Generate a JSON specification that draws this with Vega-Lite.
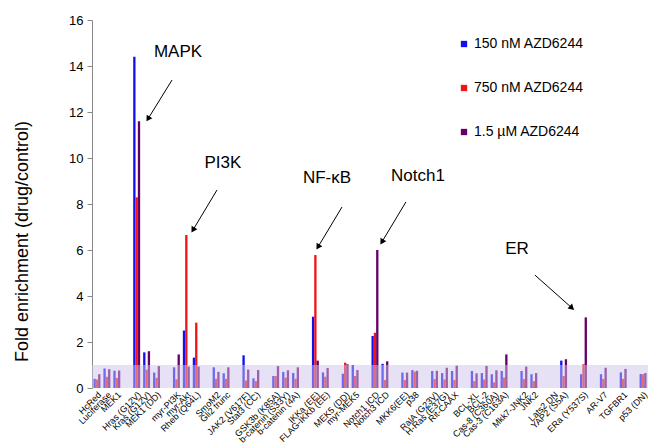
{
  "$schema": "https://vega.github.io/schema/vega-lite/v6.json",
  "width": 556,
  "height": 368,
  "autosize": {"type": "none"},
  "padding": {"left": 92, "top": 20, "right": 17, "bottom": 60},
  "background": "white",
  "config": {
    "view": {"stroke": null},
    "font": "Liberation Sans",
    "axis": {"labelFont": "Liberation Sans", "titleFont": "Liberation Sans", "labelColor": "black", "titleColor": "black"},
    "legend": {"labelFont": "Liberation Sans"}
  },
  "datasets": {
    "bars": [
      {"g": "HcRed", "s": "150 nM AZD6244", "v": 0.4}, {"g": "HcRed", "s": "750 nM AZD6244", "v": 0.37}, {"g": "HcRed", "s": "1.5 µM AZD6244", "v": 0.6},
      {"g": "Luciferase", "s": "150 nM AZD6244", "v": 0.85}, {"g": "Luciferase", "s": "750 nM AZD6244", "v": 0.49}, {"g": "Luciferase", "s": "1.5 µM AZD6244", "v": 0.82},
      {"g": "MEK1", "s": "150 nM AZD6244", "v": 0.75}, {"g": "MEK1", "s": "750 nM AZD6244", "v": 0.44}, {"g": "MEK1", "s": "1.5 µM AZD6244", "v": 0.76},
      {"g": "Hras (G12V)", "s": "150 nM AZD6244", "v": 14.4}, {"g": "Hras (G12V)", "s": "750 nM AZD6244", "v": 8.29}, {"g": "Hras (G12V)", "s": "1.5 µM AZD6244", "v": 11.6},
      {"g": "Kras (G12V)", "s": "150 nM AZD6244", "v": 1.55}, {"g": "Kras (G12V)", "s": "750 nM AZD6244", "v": 0.8}, {"g": "Kras (G12V)", "s": "1.5 µM AZD6244", "v": 1.6},
      {"g": "MEK1 (DD)", "s": "150 nM AZD6244", "v": 0.67}, {"g": "MEK1 (DD)", "s": "750 nM AZD6244", "v": 0.44}, {"g": "MEK1 (DD)", "s": "1.5 µM AZD6244", "v": 0.95},
      {"g": "myr-PI3K", "s": "150 nM AZD6244", "v": 0.9}, {"g": "myr-PI3K", "s": "750 nM AZD6244", "v": 0.38}, {"g": "myr-PI3K", "s": "1.5 µM AZD6244", "v": 1.46},
      {"g": "myr-Akt", "s": "150 nM AZD6244", "v": 2.5}, {"g": "myr-Akt", "s": "750 nM AZD6244", "v": 6.65}, {"g": "myr-Akt", "s": "1.5 µM AZD6244", "v": 0.93},
      {"g": "Rheb (Q64L)", "s": "150 nM AZD6244", "v": 1.32}, {"g": "Rheb (Q64L)", "s": "750 nM AZD6244", "v": 2.84}, {"g": "Rheb (Q64L)", "s": "1.5 µM AZD6244", "v": 0.93},
      {"g": "SmoM2", "s": "150 nM AZD6244", "v": 0.9}, {"g": "SmoM2", "s": "750 nM AZD6244", "v": 0.4}, {"g": "SmoM2", "s": "1.5 µM AZD6244", "v": 0.7},
      {"g": "Gli2 trunc", "s": "150 nM AZD6244", "v": 0.64}, {"g": "Gli2 trunc", "s": "750 nM AZD6244", "v": 0.4}, {"g": "Gli2 trunc", "s": "1.5 µM AZD6244", "v": 0.9},
      {"g": "JAK2 (V617F)", "s": "150 nM AZD6244", "v": 1.42}, {"g": "JAK2 (V617F)", "s": "750 nM AZD6244", "v": 0.33}, {"g": "JAK2 (V617F)", "s": "1.5 µM AZD6244", "v": 0.8},
      {"g": "Stat3 (CC)", "s": "150 nM AZD6244", "v": 0.42}, {"g": "Stat3 (CC)", "s": "750 nM AZD6244", "v": 0.3}, {"g": "Stat3 (CC)", "s": "1.5 µM AZD6244", "v": 0.78},
      {"g": "GSK3b (K85A)", "s": "150 nM AZD6244", "v": 0.52}, {"g": "GSK3b (K85A)", "s": "750 nM AZD6244", "v": 0.52}, {"g": "GSK3b (K85A)", "s": "1.5 µM AZD6244", "v": 0.95},
      {"g": "b-catenin (S33Y)", "s": "150 nM AZD6244", "v": 0.7}, {"g": "b-catenin (S33Y)", "s": "750 nM AZD6244", "v": 0.45}, {"g": "b-catenin (S33Y)", "s": "1.5 µM AZD6244", "v": 0.77},
      {"g": "b-catenin (4A)", "s": "150 nM AZD6244", "v": 0.65}, {"g": "b-catenin (4A)", "s": "750 nM AZD6244", "v": 0.4}, {"g": "b-catenin (4A)", "s": "1.5 µM AZD6244", "v": 0.9},
      {"g": "IKKa (EE)", "s": "150 nM AZD6244", "v": 3.1}, {"g": "IKKa (EE)", "s": "750 nM AZD6244", "v": 5.78}, {"g": "IKKa (EE)", "s": "1.5 µM AZD6244", "v": 1.19},
      {"g": "FLAG-IKKb (EE)", "s": "150 nM AZD6244", "v": 0.68}, {"g": "FLAG-IKKb (EE)", "s": "750 nM AZD6244", "v": 0.49}, {"g": "FLAG-IKKb (EE)", "s": "1.5 µM AZD6244", "v": 0.87},
      {"g": "MEK5 (DD)", "s": "150 nM AZD6244", "v": 0.62}, {"g": "MEK5 (DD)", "s": "750 nM AZD6244", "v": 1.1}, {"g": "MEK5 (DD)", "s": "1.5 µM AZD6244", "v": 1.03},
      {"g": "myr-MEK5", "s": "150 nM AZD6244", "v": 1.0}, {"g": "myr-MEK5", "s": "750 nM AZD6244", "v": 0.52}, {"g": "myr-MEK5", "s": "1.5 µM AZD6244", "v": 0.78},
      {"g": "Notch1 ICD", "s": "150 nM AZD6244", "v": 2.26}, {"g": "Notch1 ICD", "s": "750 nM AZD6244", "v": 2.4}, {"g": "Notch1 ICD", "s": "1.5 µM AZD6244", "v": 6.0},
      {"g": "Notch3 ICD", "s": "150 nM AZD6244", "v": 1.05}, {"g": "Notch3 ICD", "s": "750 nM AZD6244", "v": 0.35}, {"g": "Notch3 ICD", "s": "1.5 µM AZD6244", "v": 1.16},
      {"g": "MKK6(EE)", "s": "150 nM AZD6244", "v": 0.67}, {"g": "MKK6(EE)", "s": "750 nM AZD6244", "v": 0.35}, {"g": "MKK6(EE)", "s": "1.5 µM AZD6244", "v": 0.67},
      {"g": "p38", "s": "150 nM AZD6244", "v": 0.78}, {"g": "p38", "s": "750 nM AZD6244", "v": 0.71}, {"g": "p38", "s": "1.5 µM AZD6244", "v": 0.75},
      {"g": "RalA (G23V)", "s": "150 nM AZD6244", "v": 0.74}, {"g": "RalA (G23V)", "s": "750 nM AZD6244", "v": 0.39}, {"g": "RalA (G23V)", "s": "1.5 µM AZD6244", "v": 0.75},
      {"g": "H-Ras (E37G)", "s": "150 nM AZD6244", "v": 0.65}, {"g": "H-Ras (E37G)", "s": "750 nM AZD6244", "v": 0.37}, {"g": "H-Ras (E37G)", "s": "1.5 µM AZD6244", "v": 0.88},
      {"g": "Rit-CAAX", "s": "150 nM AZD6244", "v": 0.74}, {"g": "Rit-CAAX", "s": "750 nM AZD6244", "v": 0.35}, {"g": "Rit-CAAX", "s": "1.5 µM AZD6244", "v": 0.97},
      {"g": "BCL-XL", "s": "150 nM AZD6244", "v": 0.74}, {"g": "BCL-XL", "s": "750 nM AZD6244", "v": 0.3}, {"g": "BCL-XL", "s": "1.5 µM AZD6244", "v": 0.64},
      {"g": "BCL-2", "s": "150 nM AZD6244", "v": 0.65}, {"g": "BCL-2", "s": "750 nM AZD6244", "v": 0.37}, {"g": "BCL-2", "s": "1.5 µM AZD6244", "v": 0.96},
      {"g": "Cas-8 (C360A)", "s": "150 nM AZD6244", "v": 0.6}, {"g": "Cas-8 (C360A)", "s": "750 nM AZD6244", "v": 0.25}, {"g": "Cas-8 (C360A)", "s": "1.5 µM AZD6244", "v": 0.77},
      {"g": "Cas-3 (C163A)", "s": "150 nM AZD6244", "v": 0.74}, {"g": "Cas-3 (C163A)", "s": "750 nM AZD6244", "v": 0.46}, {"g": "Cas-3 (C163A)", "s": "1.5 µM AZD6244", "v": 1.46},
      {"g": "Mkk7-JNK2", "s": "150 nM AZD6244", "v": 0.74}, {"g": "Mkk7-JNK2", "s": "750 nM AZD6244", "v": 0.39}, {"g": "Mkk7-JNK2", "s": "1.5 µM AZD6244", "v": 0.93},
      {"g": "JNK2", "s": "150 nM AZD6244", "v": 0.6}, {"g": "JNK2", "s": "750 nM AZD6244", "v": 0.3}, {"g": "JNK2", "s": "1.5 µM AZD6244", "v": 0.65},
      {"g": "YAP2 (S5A)", "s": "150 nM AZD6244", "v": 1.19}, {"g": "YAP2 (S5A)", "s": "750 nM AZD6244", "v": 0.52}, {"g": "YAP2 (S5A)", "s": "1.5 µM AZD6244", "v": 1.25},
      {"g": "ERa (Y537S)", "s": "150 nM AZD6244", "v": 0.6}, {"g": "ERa (Y537S)", "s": "750 nM AZD6244", "v": 1.03}, {"g": "ERa (Y537S)", "s": "1.5 µM AZD6244", "v": 3.07},
      {"g": "AR-V7", "s": "150 nM AZD6244", "v": 0.6}, {"g": "AR-V7", "s": "750 nM AZD6244", "v": 0.39}, {"g": "AR-V7", "s": "1.5 µM AZD6244", "v": 0.88},
      {"g": "TGFBR1", "s": "150 nM AZD6244", "v": 0.68}, {"g": "TGFBR1", "s": "750 nM AZD6244", "v": 0.4}, {"g": "TGFBR1", "s": "1.5 µM AZD6244", "v": 0.83},
      {"g": "p53 (DN)", "s": "150 nM AZD6244", "v": 0.61}, {"g": "p53 (DN)", "s": "750 nM AZD6244", "v": 0.6}, {"g": "p53 (DN)", "s": "1.5 µM AZD6244", "v": 0.65}
    ],
    "band": [{"x0": 0, "x1": 56, "y0": 0, "y1": 1}],
    "arrows": [
      {"label": "MAPK", "x": 8.06, "y": 13.39, "x2": 5.64, "y2": 11.7},
      {"label": "PI3K", "x": 12.59, "y": 8.61, "x2": 10.17, "y2": 6.87},
      {"label": "NF-κB", "x": 25.18, "y": 7.87, "x2": 22.76, "y2": 6.13},
      {"label": "Notch1", "x": 31.62, "y": 8.09, "x2": 29.2, "y2": 6.35},
      {"label": "ER", "x": 44.61, "y": 4.91, "x2": 48.34, "y2": 3.48}
    ],
    "labels": [
      {"label": "MAPK", "x": 8.66, "y": 14.6},
      {"label": "PI3K", "x": 13.19, "y": 9.78},
      {"label": "NF-κB", "x": 23.67, "y": 9.13},
      {"label": "Notch1", "x": 32.83, "y": 9.2},
      {"label": "ER", "x": 42.8, "y": 6.04}
    ]
  },
  "layer": [
    {
      "data": {"name": "bars"},
      "mark": {"type": "bar"},
      "encoding": {
        "x": {
          "field": "g", "type": "nominal", "title": null,
          "scale": {
            "domain": ["HcRed","Luciferase","MEK1","_b1","Hras (G12V)","Kras (G12V)","MEK1 (DD)","_b2","myr-PI3K","myr-Akt","Rheb (Q64L)","_b3","SmoM2","Gli2 trunc","_b4","JAK2 (V617F)","Stat3 (CC)","_b5","GSK3b (K85A)","b-catenin (S33Y)","b-catenin (4A)","_b6","IKKa (EE)","FLAG-IKKb (EE)","_b7","MEK5 (DD)","myr-MEK5","_b8","Notch1 ICD","Notch3 ICD","_b9","MKK6(EE)","p38","_b10","RalA (G23V)","H-Ras (E37G)","Rit-CAAX","_b11","BCL-XL","BCL-2","Cas-8 (C360A)","Cas-3 (C163A)","_b12","Mkk7-JNK2","JNK2","_b13","Lats2 DN","YAP2 (S5A)","_b14","ERa (Y537S)","_b15","AR-V7","_b16","TGFBR1","_b17","p53 (DN)"],
            "paddingInner": 0.3, "paddingOuter": 0.15
          },
          "axis": {
            "labelAngle": -45, "labelFontSize": 9, "labelPadding": 2, "ticks": false, "domain": false,
            "labelExpr": "indexof(datum.label, '_b') == 0 ? '' : datum.label"
          }
        },
        "xOffset": {"field": "s", "type": "nominal", "scale": {"domain": ["150 nM AZD6244", "750 nM AZD6244", "1.5 µM AZD6244"], "paddingInner": 0}},
        "y": {
          "field": "v", "type": "quantitative", "title": "Fold enrichment (drug/control)",
          "scale": {"domain": [0, 16], "nice": false},
          "axis": {
            "values": [0, 2, 4, 6, 8, 10, 12, 14, 16], "grid": false,
            "labelFontSize": 13, "titleFontSize": 18, "titleFontWeight": "normal",
            "titleX": -70, "titleY": 221, "titleBaseline": "middle", "titleAlign": "center",
            "domainColor": "#888888", "tickColor": "#888888", "tickSize": 5, "labelPadding": 4
          }
        },
        "color": {
          "field": "s", "type": "nominal",
          "scale": {"domain": ["150 nM AZD6244", "750 nM AZD6244", "1.5 µM AZD6244"], "range": ["#1010f0", "#f01414", "#660066"]},
          "legend": {
            "title": null, "orient": "none", "legendX": 365, "legendY": 17,
            "symbolType": "square", "symbolSize": 40, "symbolStrokeWidth": 0,
            "labelFontSize": 14, "labelColor": "black", "rowPadding": 30, "labelOffset": 3
          }
        }
      }
    },
    {
      "data": {"name": "band"},
      "mark": {"type": "rect", "fill": "#d0c4ec", "opacity": 0.5},
      "encoding": {
        "x": {"field": "x0", "type": "quantitative", "scale": {"domain": [0, 56], "nice": false, "zero": false}, "axis": null},
        "x2": {"field": "x1"},
        "y": {"field": "y0", "type": "quantitative"},
        "y2": {"field": "y1"}
      }
    },
    {
      "data": {"name": "arrows"},
      "mark": {"type": "rule", "color": "black", "strokeWidth": 1},
      "encoding": {
        "x": {"field": "x", "type": "quantitative", "scale": {"domain": [0, 56], "nice": false, "zero": false}, "axis": null},
        "x2": {"field": "x2"},
        "y": {"field": "y", "type": "quantitative"},
        "y2": {"field": "y2"}
      }
    },
    {
      "data": {"name": "arrows"},
      "transform": [{"calculate": "atan2((datum.x2 - datum.x) * 9.93, (datum.y2 - datum.y) * 23) * 180 / PI", "as": "ang"}],
      "mark": {"type": "point", "shape": "triangle-up", "filled": true, "color": "black", "size": 45, "opacity": 1},
      "encoding": {
        "x": {"field": "x2", "type": "quantitative", "scale": {"domain": [0, 56], "nice": false, "zero": false}, "axis": null},
        "y": {"field": "y2", "type": "quantitative"},
        "angle": {"field": "ang", "type": "quantitative", "scale": null}
      }
    },
    {
      "data": {"name": "labels"},
      "mark": {"type": "text", "fontSize": 17, "font": "Liberation Sans", "color": "black", "align": "center", "baseline": "middle"},
      "encoding": {
        "x": {"field": "x", "type": "quantitative", "scale": {"domain": [0, 56], "nice": false, "zero": false}, "axis": null},
        "y": {"field": "y", "type": "quantitative"},
        "text": {"field": "label"}
      }
    }
  ],
  "resolve": {"scale": {"x": "independent"}}
}
